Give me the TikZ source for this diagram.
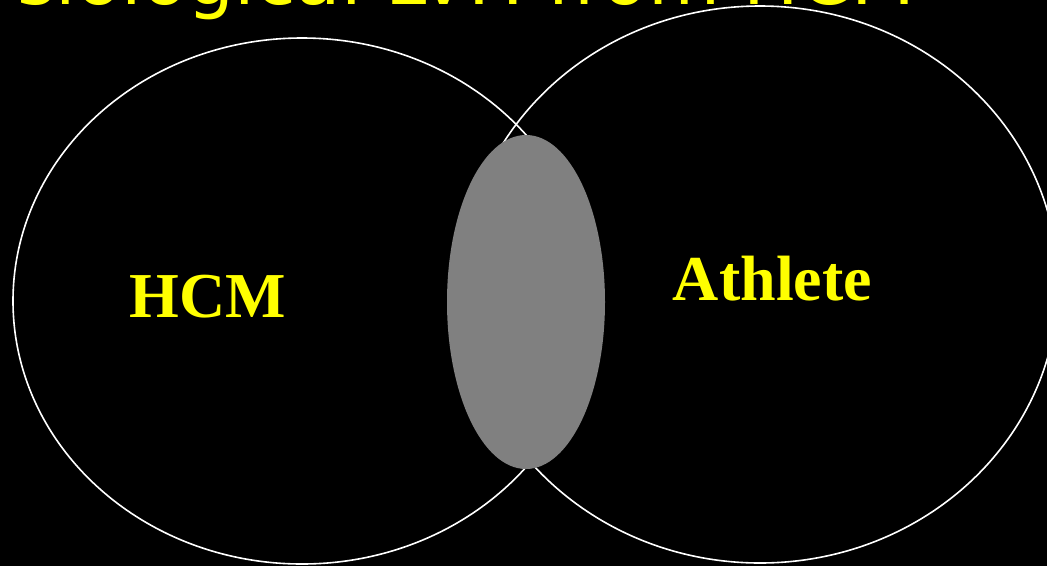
\documentclass[tikz,border=0pt]{standalone}
\usepackage{fontspec}
\usetikzlibrary{shapes.geometric}
\setmainfont{Liberation Serif}
\newfontfamily\titlefont{DejaVu Sans}
\definecolor{labelyellow}{HTML}{FFFF00}
\definecolor{overlapgray}{HTML}{808080}
\begin{document}
\begin{tikzpicture}[x=1pt,y=-1pt,
  setring/.style={draw=white,line width=1.6pt,ellipse,inner sep=0pt},
  overlap/.style={fill=overlapgray,ellipse,inner sep=0pt,minimum width=158pt,minimum height=334pt},
  biglabel/.style={text=labelyellow,font=\fontsize{64}{64}\selectfont\bfseries,inner sep=0pt,anchor=base},
  titletext/.style={text=labelyellow,font=\titlefont\fontsize{74}{74}\selectfont,inner sep=0pt,anchor=base east}]
\useasboundingbox (0,0) rectangle (1047,566);
\fill[black] (0,0) rectangle (1047,566);
\clip (0,0) rectangle (1047,566);
\node[titletext] (title) at (915,4) {Physiological LVH from HCM};
\node[setring,minimum width=578pt,minimum height=526pt] (hcmset) at (302,301) {};
\node[setring,minimum width=596pt,minimum height=557pt] (athset) at (760,284.5) {};
\node[overlap] (both) at (526,302) {};
\node[biglabel] (hcm) at (207.5,317) {HCM};
\node[biglabel] (athlete) at (772.5,300) {Athlete};
\end{tikzpicture}
\end{document}
